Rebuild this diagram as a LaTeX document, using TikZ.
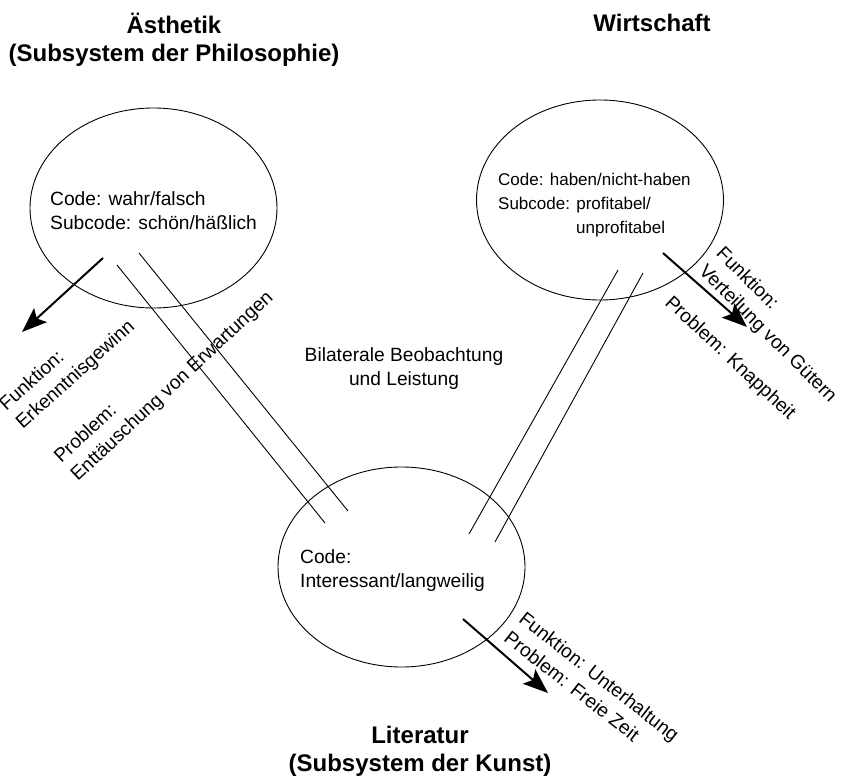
\documentclass[tikz,border=0pt]{standalone}
\usepackage{fontspec}
\setmainfont{Liberation Sans}
\usepackage{tikz}
\usetikzlibrary{arrows.meta,shapes.geometric,positioning}

\tikzset{
  sys/.style={draw, ellipse, line width=0.9pt, minimum width=247pt, minimum height=200pt, inner sep=0pt},
  txt/.style={inner sep=0pt, align=left, font=\fontsize{19.2}{24.5}\selectfont},
  ttl/.style={inner sep=0pt, align=center, font=\fontsize{24}{28}\selectfont\bfseries},
  pfeil/.style={line width=2pt, -{Stealth[length=25pt,width=19pt,inset=5pt]}},
  band/.style={line width=0.9pt}
}

\begin{document}
\begin{tikzpicture}[x=1pt,y=-1pt]
  \useasboundingbox (0,0) rectangle (845,778);
  % Systeme
  \node[sys] (aest) at (153.5,208) {};
  \node[sys] (wirt) at (600,200) {};
  \node[sys] (lit) at (401.5,567) {};
  \node[ttl, anchor=south] (taest) at (174,67) {Ästhetik\\(Subsystem der Philosophie)};
  \node[ttl, anchor=base] (twirt) at (652,32) {Wirtschaft};
  \node[ttl, anchor=south] (tlit) at (420,777) {Literatur\\(Subsystem der Kunst)};
  % Codes
  \node[txt, anchor=north west] (caest) at (50,191) {Code: wahr/falsch\\Subcode: schön/häßlich};
  \node[txt, anchor=north west, font=\fontsize{17}{24}\selectfont] (cwirt) at (498,173)
    {Code: haben/nicht-haben\\Subcode: profitabel/\\\hspace*{78pt}unprofitabel};
  \node[txt, anchor=north west] (clit) at (300,549) {Code:\\Interessant/langweilig};
  \node[txt, align=center, anchor=north] (mitte) at (404,347) {Bilaterale Beobachtung\\und Leistung};
  % Funktion und Problem
  \node[txt, rotate=42, anchor=south west] (faest) at (25.5,433) {Funktion:\\Erkenntnisgewinn};
  \node[txt, rotate=43, anchor=south west] (paest) at (80.7,485) {Problem:\\Enttäuschung von Erwartungen};
  \node[txt, rotate=-45, anchor=south west] (fwirt) at (695,275) {Funktion:\\Verteilung von Gütern};
  \node[txt, rotate=-43, anchor=base west] (pwirt) at (664,304) {Problem: Knappheit};
  \node[txt, rotate=-38, anchor=south west] (flit) at (502.5,641) {Funktion: Unterhaltung\\Problem: Freie Zeit};
  % Beobachtung und Leistung
  \coordinate (al1) at (117,265); \coordinate (al2) at (325,523);
  \coordinate (ar1) at (139,253); \coordinate (ar2) at (348,511);
  \coordinate (wl1) at (618,270); \coordinate (wl2) at (469,534);
  \coordinate (wr1) at (643,273); \coordinate (wr2) at (495,542);
  \draw[band] (al1) -- (al2);
  \draw[band] (ar1) -- (ar2);
  \draw[band] (wl1) -- (wl2);
  \draw[band] (wr1) -- (wr2);
  % Pfeile
  \coordinate (pa1) at (103,258); \coordinate (pa2) at (22,332);
  \coordinate (pw1) at (663,253); \coordinate (pw2) at (747,327);
  \coordinate (pl1) at (463,619); \coordinate (pl2) at (548,693);
  \draw[pfeil] (pa1) -- (pa2);
  \draw[pfeil] (pw1) -- (pw2);
  \draw[pfeil] (pl1) -- (pl2);
\end{tikzpicture}
\end{document}
